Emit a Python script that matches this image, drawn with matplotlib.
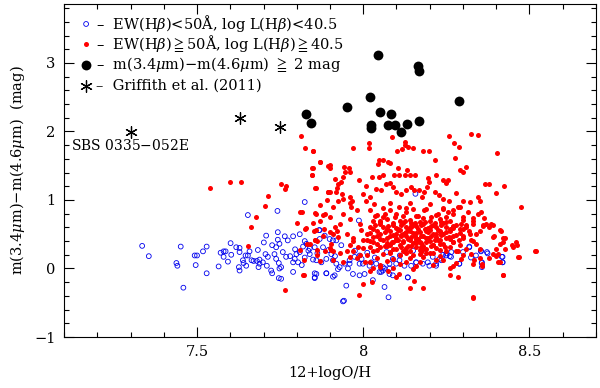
import matplotlib
matplotlib.use("Agg")
import matplotlib.pyplot as plt
from matplotlib.ticker import MultipleLocator

# ---------------- data ----------------
# Griffith et al. (2011) objects
star_x = [7.30, 7.63, 7.75]
star_y = [1.99, 2.20, 2.06]

# m(3.4)-m(4.6) >= 2 mag
black_x = [8.043, 8.164, 8.169, 8.019, 7.952, 8.287, 7.827, 7.844, 8.049, 8.084,
           8.024, 8.022, 8.074, 8.096, 8.133, 8.169, 8.113]
black_y = [3.11, 2.96, 2.88, 2.50, 2.35, 2.45, 2.26, 2.12, 2.28, 2.25,
           2.09, 2.05, 2.09, 2.10, 2.11, 2.15, 1.99]

# EW(Hb)<50A, log L(Hb)<40.5  (blue open circles)
blue_x = [7.335, 7.355, 7.451, 7.438, 7.441, 7.459, 7.493, 7.500, 7.496, 7.518,
          7.529, 7.529, 7.565, 7.571, 7.580, 7.586, 7.580, 7.601, 7.603, 7.593,
          7.618, 7.628, 7.626, 7.628, 7.646, 7.640, 7.658, 7.648, 7.664, 7.670,
          7.683, 7.685, 7.688, 7.701, 7.708, 7.706, 7.713, 7.710, 7.726, 7.738,
          7.748, 7.743, 7.743, 7.733, 7.738, 7.746, 7.753, 7.723, 7.726, 7.748,
          7.758, 7.768, 7.773, 7.764, 7.753, 7.746, 7.688, 7.698, 7.680, 7.628,
          7.638, 7.653, 7.653, 7.742, 7.824, 7.867,
          7.789, 7.809, 7.824, 7.829, 7.819, 7.809, 7.799, 7.794, 7.789, 7.804,
          7.824, 7.839, 7.849, 7.859, 7.874, 7.889, 7.904, 7.909, 7.919, 7.929,
          7.944, 7.959, 7.974, 7.989, 7.999, 8.019, 8.039, 8.059, 8.079, 8.099,
          8.124, 8.144, 8.159, 8.179, 8.199, 8.219, 7.789, 7.854, 7.859, 7.889,
          7.909, 7.954, 7.969, 7.989, 8.004, 8.029, 8.049, 8.064, 8.079, 8.089,
          8.134, 7.869, 7.884, 7.899, 7.919, 7.934, 7.879, 7.854, 7.839, 7.942,
          8.064, 8.076,
          7.987, 8.157, 7.869, 7.909, 8.319, 8.354, 8.374, 8.419, 8.419, 8.357,
          8.357, 8.289, 8.264, 8.219, 8.159, 8.054, 8.059, 8.079, 7.939, 7.949,
          7.914, 7.854, 7.854, 7.889, 7.924, 8.134, 8.209, 8.229, 8.249, 8.194,
          8.109, 8.089, 8.024, 7.989, 7.959,
          8.319, 8.354, 8.372, 8.339, 8.324, 8.417, 8.419, 8.356, 8.289, 8.240,
          8.250, 8.260, 8.265, 7.780, 7.795, 7.815, 7.835, 7.862, 7.895, 7.915,
          7.975, 7.995, 8.012, 8.035, 8.070, 8.110, 8.150, 8.185, 8.235, 8.300]
blue_y = [0.33, 0.18, 0.32, 0.08, 0.04, -0.28, 0.19, 0.19, 0.05, 0.25,
          0.32, -0.07, 0.03, 0.23, 0.25, 0.25, 0.17, 0.37, 0.20, 0.10,
          0.31, 0.30, 0.02, -0.03, 0.19, 0.08, 0.25, 0.04, 0.12, 0.11,
          0.27, 0.02, 0.07, 0.38, 0.48, 0.21, 0.17, 0.04, 0.34, 0.31,
          0.36, 0.42, 0.53, 0.21, 0.14, 0.08, 0.02, -0.03, -0.07, 0.00,
          0.24, 0.17, 0.41, 0.47, -0.15, -0.14, 0.13, 0.09, 0.11, 0.24,
          0.12, 0.19, 0.78, 0.84, 0.97, 0.56,
          0.47, 0.50, 0.40, 0.36, 0.32, 0.24, 0.21, 0.14, 0.09, 0.09,
          0.16, 0.21, 0.13, 0.12, 0.09, 0.14, 0.21, 0.12, 0.07, 0.02,
          0.07, 0.12, 0.17, 0.19, 0.07, 0.04, 0.07, 0.02, 0.00, 0.07,
          0.04, 0.04, 0.09, 0.07, 0.04, 0.07, -0.05, -0.14, -0.08, -0.07,
          -0.12, 0.00, -0.08, -0.10, -0.08, -0.17, -0.05, 0.00, -0.08, -0.10,
          -0.13, 0.43, 0.48, 0.43, 0.41, 0.34, 0.31, 0.31, 0.29, -0.47,
          -0.27, -0.42,
          0.70, 1.09, 0.56, 0.41, 0.31, 0.26, 0.22, 0.17, 0.09, 0.09,
          0.02, 0.07, 0.17, 0.04, 0.09, -0.05, -0.03, 0.07, -0.48, -0.25,
          -0.10, -0.13, -0.07, -0.07, -0.01, -0.13, 0.17, 0.14, 0.19, 0.09,
          0.12, 0.14, 0.09, 0.07, 0.07,
          0.32, 0.25, 0.24, 0.19, 0.16, 0.17, 0.09, 0.08, 0.07, 0.20,
          0.22, 0.18, 0.24, 0.18, 0.28, 0.05, 0.26, 0.22, 0.27, 0.18,
          0.26, 0.14, 0.23, 0.16, 0.24, 0.19, 0.26, 0.22, 0.12, 0.24]

# EW(Hb)>=50A, log L(Hb)>=40.5  (red filled dots) - outskirts
red_x = [7.538, 7.600, 7.633, 7.752, 7.769, 7.766, 7.714, 7.704, 7.677, 7.663,
         7.652, 7.764, 7.820, 7.846, 7.846, 7.850, 7.869, 7.895, 7.856, 7.895,
         7.900, 7.923, 7.923, 7.810, 7.815, 7.800, 7.826, 7.850, 7.853, 7.859,
         7.880, 7.882, 7.900, 7.910, 7.854, 7.860, 7.862, 7.830, 7.810, 7.822,
         7.870, 7.902, 7.908,
         7.814, 7.826, 7.849, 7.969, 8.017, 8.017, 8.086, 8.127, 8.127, 8.134,
         8.117, 8.149, 8.179, 8.199, 8.102, 8.216, 8.259, 8.324, 8.346, 8.274,
         8.289, 8.403, 8.275, 8.310, 8.290, 8.300, 7.869, 7.849, 7.847, 7.899,
         7.901, 7.942, 7.956, 7.959, 7.944, 7.939, 7.933, 8.046, 8.044, 8.059,
         8.074, 8.081, 8.091, 8.109, 8.126, 8.142, 8.156, 8.104, 8.131, 8.219,
         8.239, 8.250, 8.254, 8.195, 8.199, 8.191, 7.857, 7.894, 7.917, 7.922,
         7.914, 7.937, 7.959, 7.966, 7.964, 7.987, 8.027, 8.047, 8.059, 8.009,
         7.999, 8.019, 8.009, 8.031, 8.039, 8.054, 8.069, 8.079, 8.089, 8.099,
         8.114, 8.129, 8.144, 8.154, 8.169, 8.184, 8.177, 8.217, 8.227, 8.241,
         8.259, 8.279, 8.299, 8.320, 8.345, 8.350, 8.365, 8.378, 8.398, 8.422,
         8.473, 8.518, 8.467, 8.447, 8.450, 8.355, 8.385, 8.410, 8.390, 8.420,
         8.410, 8.425, 8.400, 8.410, 8.420, 8.330, 8.260, 8.284, 8.179, 8.142,
         8.152, 8.109, 8.099, 8.027, 7.999, 7.987, 7.821, 8.019, 8.049, 8.074,
         7.854, 7.827, 7.859, 7.854, 7.839, 7.884, 7.914, 7.939, 7.924, 7.904,
         7.884, 7.909, 7.939, 7.959, 7.969, 7.994, 7.999, 7.984, 7.989, 8.004,
         8.519, 8.466, 8.460, 8.462, 8.420, 8.331, 8.270, 8.356, 8.356,
         8.414, 8.426, 8.419, 8.394, 8.389, 8.369, 8.400, 8.406, 8.389, 8.379,
         8.404, 8.352, 8.339, 8.324, 8.339, 8.319, 8.309, 8.359, 8.329, 8.299,
         8.289, 8.284, 8.294, 8.324, 8.334, 8.294, 8.269, 8.259, 8.234,
         8.019, 8.034, 8.049, 8.064, 8.079, 8.094, 8.109, 8.129, 8.149, 8.164,
         8.184, 8.204, 8.224, 8.239, 8.254, 8.269, 8.284, 8.299, 8.314, 8.329,
         8.344, 8.364, 8.379,
         7.87, 7.90, 7.93, 7.96, 7.98, 7.88, 7.92, 7.95, 7.97, 7.86,
         7.90, 7.93, 7.96, 7.91, 7.87, 7.99, 7.94, 7.89]
red_y = [1.17, 1.26, 1.26, 1.24, 1.21, 1.16, 1.06, 0.91, 0.75, 0.60,
         0.33, -0.31, -0.10, 1.46, 1.36, 1.71, 1.56, 1.50, 1.17, 1.12,
         1.12, 1.24, 0.98, 0.83, 0.82, 0.67, 0.58, 0.67, 0.54, 0.80,
         0.78, 0.58, 0.53, 0.50, 0.41, 0.40, 0.27, 0.36, 0.27, 0.12,
         0.11, 0.27, 0.25,
         1.94, 1.76, 1.72, 1.76, 1.83, 1.76, 1.92, 1.85, 1.80, 1.77,
         1.75, 1.76, 1.72, 1.72, 1.72, 1.59, 1.94, 1.96, 1.95, 1.83,
         1.78, 1.69, 1.61, 1.48, 1.44, 1.41, 1.55, 1.46, 1.37, 1.51,
         1.47, 1.48, 1.47, 1.41, 1.41, 1.33, 1.26, 1.59, 1.52, 1.58,
         1.55, 1.54, 1.37, 1.37, 1.37, 1.37, 1.37, 1.46, 1.44, 1.37,
         1.29, 1.25, 1.29, 1.32, 1.26, 1.19, 1.17, 1.12, 1.12, 1.18,
         1.31, 1.08, 1.04, 0.98, 0.90, 1.29, 1.33, 1.33, 1.36, 1.20,
         1.09, 1.05, 0.99, 0.94, 1.16, 1.14, 1.24, 1.25, 1.19, 1.11,
         1.09, 1.15, 1.19, 1.14, 1.15, 1.11, 1.04, 1.11, 1.07, 1.02,
         0.99, 1.10, 0.99, 0.97, 1.05, 0.99, 1.24, 1.23, 1.10, 1.21,
         0.90, 0.25, 0.17, 0.34, 0.31, 0.82, 0.65, 0.56, 0.46, 0.45,
         0.36, 0.29, 0.18, 0.09, -0.10, -0.42, -0.09, -0.13, -0.28, -0.29,
         -0.18, -0.08, -0.13, -0.20, -0.23, -0.39, -0.10, -0.03, 0.02, -0.03,
         0.81, 0.59, 0.56, 0.41, 0.36, 0.80, 0.60, 0.80, 0.46, 0.36,
         0.26, 0.12, 0.09, 0.17, 0.26, 0.56, 0.41, 0.31, 0.19, 0.09,
         0.25, 0.17, 0.38, 0.35, -0.10, -0.43, 0.03, 0.03, 0.06,
         0.55, 0.45, 0.38, 0.48, 0.63, 0.65, 0.29, 0.21, 0.21, 0.16,
         0.09, 0.29, 0.36, 0.41, 0.51, 0.55, 0.63, 0.63, 0.70, 0.48,
         0.41, 0.26, 0.14, 0.21, 0.12, 0.65, 0.60, 0.46, 0.68,
         0.85, 0.77, 0.70, 0.80, 0.85, 0.75, 0.90, 0.82, 0.87, 0.77,
         0.85, 0.75, 0.80, 0.87, 0.82, 0.85, 0.90, 0.75, 0.82, 0.73,
         0.80, 0.73, 0.60,
         0.70, 0.75, 0.65, 0.72, 0.85, 0.48, 0.55, 0.50, 0.40, 0.20,
         0.30, 0.22, 0.95, 0.90, 0.92, 0.65, 1.02, 1.00]

# red dense core (first layer)
core_x = [8.03, 8.07, 8.11, 8.14, 8.17, 8.20, 8.23, 8.26, 8.30,
          8.05, 8.09, 8.12, 8.15, 8.18, 8.21, 8.24, 8.28, 8.33,
          8.02, 8.06, 8.10, 8.13, 8.16, 8.19, 8.22, 8.25, 8.27, 8.31, 8.36,
          8.04, 8.08, 8.11, 8.14, 8.17, 8.20, 8.23, 8.26, 8.29, 8.35,
          8.01, 8.05, 8.09, 8.12, 8.15, 8.18, 8.21, 8.24, 8.28, 8.32,
          7.97, 8.03, 8.07, 8.10, 8.13, 8.16, 8.19, 8.22, 8.25, 8.30,
          8.02, 8.06, 8.09, 8.12, 8.14, 8.17, 8.20, 8.23, 8.27, 8.33,
          7.96, 8.04, 8.08, 8.11, 8.15, 8.18, 8.21, 8.24, 8.29,
          8.00, 8.05, 8.10, 8.13, 8.16, 8.19, 8.22, 8.26, 8.31,
          7.95, 8.03, 8.08, 8.12, 8.17, 8.20, 8.25, 8.28,
          8.01, 8.06, 8.11, 8.15, 8.19, 8.23, 8.30,
          7.98, 8.04, 8.09, 8.14, 8.18, 8.24, 8.35,
          8.02, 8.07, 8.13, 8.17, 8.22, 8.28,
          8.05, 8.11, 8.16, 8.21, 8.33,
          8.03, 8.09, 8.15, 8.26,
          8.04, 8.10, 8.16, 8.22, 8.27,
          8.06, 8.13, 8.19, 8.24, 8.29,
          8.08, 8.14, 8.20,
          8.125, 8.155, 8.185, 8.105, 8.145, 8.175, 8.135, 8.165, 8.115, 8.195,
          8.085, 8.215, 8.065, 8.235, 8.125, 8.155, 8.145, 8.175, 8.105, 8.205]
core_y = [0.70, 0.72, 0.69, 0.71, 0.68, 0.70, 0.72, 0.69, 0.71,
          0.65, 0.63, 0.66, 0.64, 0.65, 0.63, 0.66, 0.64, 0.65,
          0.60, 0.61, 0.59, 0.60, 0.62, 0.58, 0.60, 0.61, 0.59, 0.60, 0.62,
          0.55, 0.54, 0.56, 0.55, 0.53, 0.56, 0.54, 0.55, 0.57, 0.54,
          0.50, 0.51, 0.49, 0.50, 0.52, 0.48, 0.50, 0.51, 0.49, 0.50,
          0.45, 0.46, 0.44, 0.45, 0.47, 0.43, 0.45, 0.46, 0.44, 0.45,
          0.40, 0.41, 0.39, 0.40, 0.42, 0.38, 0.40, 0.41, 0.39, 0.40,
          0.35, 0.36, 0.34, 0.35, 0.37, 0.33, 0.35, 0.36, 0.34,
          0.30, 0.31, 0.29, 0.30, 0.32, 0.28, 0.30, 0.31, 0.29,
          0.25, 0.26, 0.24, 0.25, 0.27, 0.23, 0.25, 0.26,
          0.20, 0.21, 0.19, 0.20, 0.22, 0.18, 0.20,
          0.15, 0.16, 0.14, 0.15, 0.17, 0.13, 0.15,
          0.10, 0.11, 0.09, 0.10, 0.12, 0.08,
          0.05, 0.06, 0.04, 0.05, 0.06,
          0.00, 0.01, -0.01, 0.00,
          0.78, 0.79, 0.77, 0.78, 0.80,
          0.88, 0.89, 0.87, 0.88, 0.90,
          0.95, 0.96, 0.94,
          0.52, 0.47, 0.57, 0.42, 0.62, 0.37, 0.33, 0.43, 0.48, 0.53,
          0.38, 0.42, 0.33, 0.52, 0.27, 0.38, 0.67, 0.24, 0.57, 0.33]

# red dense core (second, interleaved layer)
core2_x = [8.05, 8.09, 8.125, 8.155, 8.185, 8.215, 8.25,
           8.035, 8.075, 8.115, 8.145, 8.175, 8.205, 8.235, 8.27,
           8.03, 8.07, 8.105, 8.135, 8.165, 8.195, 8.225, 8.26, 8.30,
           8.02, 8.065, 8.10, 8.13, 8.16, 8.19, 8.22, 8.25, 8.29,
           8.04, 8.08, 8.115, 8.145, 8.175, 8.205, 8.235, 8.27,
           8.01, 8.05, 8.10, 8.135, 8.165, 8.195, 8.225, 8.26,
           8.03, 8.07, 8.12, 8.16, 8.19, 8.23, 8.27,
           8.02, 8.07, 8.115, 8.145, 8.175, 8.21, 8.245,
           8.04, 8.09, 8.14, 8.18, 8.23,
           8.08, 8.13, 8.17, 8.21,
           8.06, 8.12, 8.18, 8.25]
core2_y = [0.68, 0.66, 0.69, 0.67, 0.68, 0.66, 0.68,
           0.63, 0.62, 0.64, 0.61, 0.63, 0.62, 0.64, 0.62,
           0.57, 0.58, 0.56, 0.58, 0.57, 0.59, 0.56, 0.58, 0.57,
           0.52, 0.53, 0.51, 0.53, 0.52, 0.54, 0.51, 0.53, 0.52,
           0.48, 0.47, 0.49, 0.46, 0.48, 0.47, 0.49, 0.47,
           0.42, 0.43, 0.41, 0.43, 0.42, 0.44, 0.41, 0.43,
           0.38, 0.37, 0.39, 0.37, 0.38, 0.36, 0.38,
           0.32, 0.33, 0.31, 0.33, 0.32, 0.34, 0.32,
           0.27, 0.28, 0.26, 0.28, 0.27,
           0.22, 0.23, 0.21, 0.23,
           0.75, 0.76, 0.74, 0.75]

# ---------------- figure ----------------
plt.rcParams['font.family'] = ['DejaVu Serif', 'Noto Sans CJK JP', 'DejaVu Sans']
plt.rcParams['mathtext.fontset'] = 'dejavuserif'

fig = plt.figure(figsize=(6.0, 3.88), dpi=100)
ax = fig.add_axes([0.1067, 0.1314, 0.8866, 0.8583])

RED = '#ff0000'
BLUE = '#0000ee'
ax.scatter(blue_x, blue_y, s=12, facecolors='none', edgecolors=BLUE,
           linewidths=0.6, zorder=2)
ax.scatter(red_x, red_y, s=13, c=RED, linewidths=0, zorder=3)
ax.scatter(core_x, core_y, s=13, c=RED, linewidths=0, zorder=3)
ax.scatter(core2_x, core2_y, s=13, c=RED, linewidths=0, zorder=3)
ax.scatter(black_x, black_y, s=50, c='black', linewidths=0, zorder=4)
ax.scatter(star_x, star_y, s=70, marker=(6, 2, 0), c='black',
           linewidths=0.9, zorder=4)

ax.text(7.12, 1.80, 'SBS 0335$-$052E', fontsize=10, ha='left', va='center')

# legend (drawn by hand to match the reference)
fs = 10.5
ly = [0.940, 0.880, 0.817, 0.754]
mx = 0.0415
ax.scatter([mx], [ly[0]], s=12, facecolors='none', edgecolors=BLUE,
           linewidths=0.6, transform=ax.transAxes, zorder=5)
ax.scatter([mx], [ly[1]], s=13, c=RED, linewidths=0,
           transform=ax.transAxes, zorder=5)
ax.scatter([mx], [ly[2]], s=50, c='black', linewidths=0,
           transform=ax.transAxes, zorder=5)
ax.scatter([mx], [ly[3]], s=70, marker=(6, 2, 0), c='black',
           linewidths=0.9, transform=ax.transAxes, zorder=5)
labels = ['–  EW(H$\\beta$)<50Å, log L(H$\\beta$)<40.5',
          '–  EW(H$\\beta$)$\\geqq$50Å, log L(H$\\beta$)$\\geqq$40.5',
          '–  m(3.4$\\mu$m)$-$m(4.6$\\mu$m) $\\geqq$ 2 mag',
          '–  Griffith et al. (2011)']
for yy, lab in zip(ly, labels):
    ax.text(0.060, yy, lab, transform=ax.transAxes, fontsize=fs,
            ha='left', va='center')

ax.set_xlim(7.1, 8.7)
ax.set_ylim(-1, 3.86)
ax.xaxis.set_minor_locator(MultipleLocator(0.1))
ax.yaxis.set_minor_locator(MultipleLocator(0.2))
ax.set_xticks([7.5, 8.0, 8.5])
ax.set_xticklabels(['7.5', '8', '8.5'])
ax.set_yticks([-1, 0, 1, 2, 3])
ax.set_yticklabels(['−1', '0', '1', '2', '3'])
ax.tick_params(which='both', direction='in', top=True, right=True,
               labelsize=10.5, width=0.8)
ax.tick_params(which='major', length=7, pad=6)
ax.tick_params(which='minor', length=3.5)
for sp in ax.spines.values():
    sp.set_linewidth(0.8)

ax.set_xlabel('12+logO/H', fontsize=10.5, labelpad=5)
ax.set_ylabel('m(3.4$\\mu$m)$-$m(4.6$\\mu$m)  (mag)', fontsize=10.5, labelpad=5)

fig.savefig('out.png', dpi=100)
